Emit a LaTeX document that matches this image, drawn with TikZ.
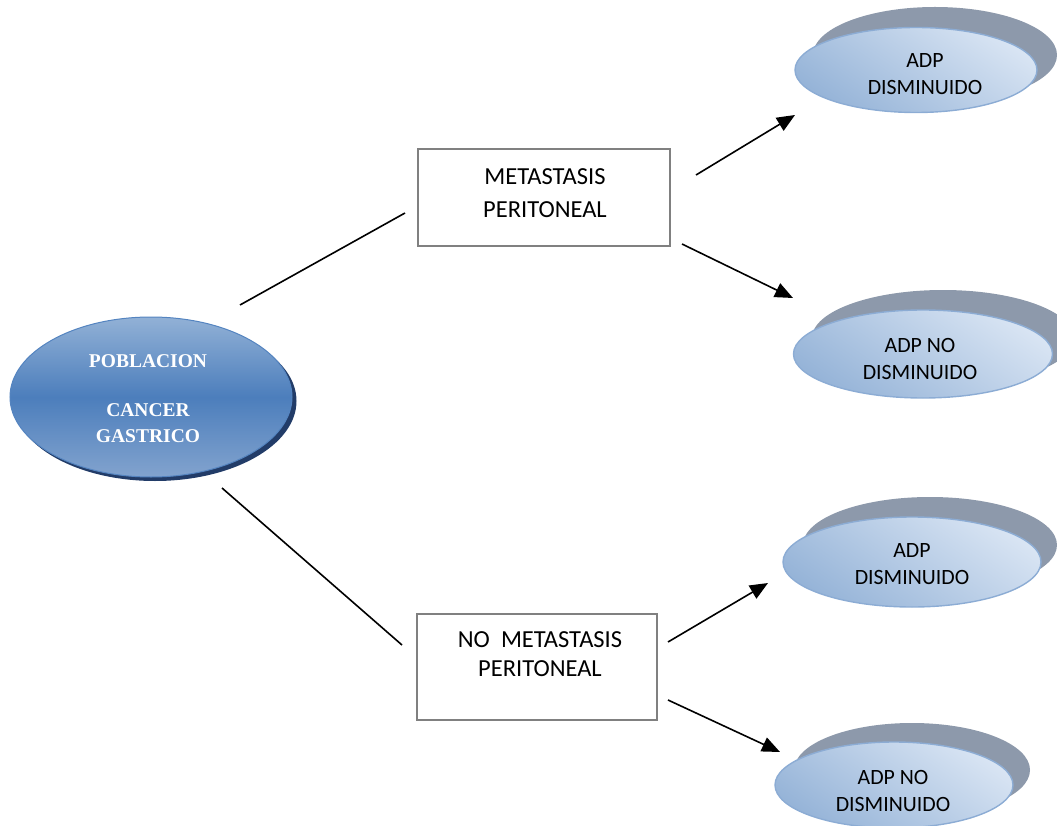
\documentclass[tikz,border=0pt]{standalone}
\usepackage{fontspec}
\setmainfont{Carlito}
\newfontfamily\cambria{Liberation Serif}
\usetikzlibrary{shapes.geometric,arrows.meta}
\definecolor{boxgray}{RGB}{128,128,128}
\definecolor{backgray}{RGB}{141,153,171}
\definecolor{frontlight}{RGB}{216,228,243}
\definecolor{frontdark}{RGB}{150,180,216}
\definecolor{frontedge}{RGB}{140,172,212}
\definecolor{bigtop}{RGB}{146,177,214}
\definecolor{bigmid}{RGB}{76,126,188}
\definecolor{bigbot}{RGB}{130,163,206}
\definecolor{bigedge}{RGB}{84,132,192}
\definecolor{bigshadow}{RGB}{34,60,104}
\begin{document}
\begin{tikzpicture}[x=1pt,y=-1pt,
  boxn/.style={draw=boxgray, line width=1.8pt, inner sep=0pt},
  boxtext/.style={align=center, font=\fontsize{24.5}{33}\selectfont},
  etext/.style={align=center, font=\fontsize{21.8}{27}\selectfont},
  backell/.style={ellipse, fill=backgray, inner sep=0pt},
  frontell/.style={ellipse, draw=frontedge, line width=1.4pt, inner sep=0pt,
     top color=frontlight, bottom color=frontdark, shading angle=-35},
  conn/.style={line width=1.6pt, black},
  arr/.style={conn, -{Triangle[length=18pt,width=15pt]}}
]
\useasboundingbox (0,0) rectangle (1057,826);

% big ellipse
\node[ellipse, fill=bigshadow, minimum width=283pt, minimum height=160pt, inner sep=0pt] (bigsh) at (155,401) {};
\node[ellipse, draw=bigedge, line width=1pt, minimum width=282pt, minimum height=160pt, inner sep=0pt,
  top color=bigtop, bottom color=bigbot, middle color=bigmid] (big) at (151,397) {};
\node[align=center, text=white, font=\cambria\bfseries\fontsize{19.5}{26}\selectfont] (bigt) at (148,399)
  {POBLACION\\[23pt]CANCER\\GASTRICO};

% boxes
\node[boxn, minimum width=252pt, minimum height=97pt] (box1) at (544,197.5) {};
\node[boxtext] (box1t) at (545,193) {METASTASIS\\PERITONEAL};
\node[boxn, minimum width=240pt, minimum height=106pt] (box2) at (537,667) {};
\node[boxtext, font=\fontsize{24.5}{29}\selectfont] (box2t) at (540,654) {NO\ \ METASTASIS\\PERITONEAL};

% outcome ellipses
\node[backell, minimum width=244pt, minimum height=96pt] (b1) at (935,55) {};
\node[frontell, minimum width=242pt, minimum height=85pt] (e1) at (916,70) {};
\node[etext] (t1) at (925,74) {ADP\\DISMINUIDO};

\node[backell, minimum width=262pt, minimum height=96pt] (b2) at (943,338) {};
\node[frontell, minimum width=259pt, minimum height=88pt] (e2) at (923,354) {};
\node[etext] (t2) at (920,359) {ADP NO\\DISMINUIDO};

\node[backell, minimum width=254pt, minimum height=96pt] (b3) at (930,545) {};
\node[frontell, minimum width=258pt, minimum height=90pt] (e3) at (912,562) {};
\node[etext] (t3) at (912,564) {ADP\\DISMINUIDO};

\node[backell, minimum width=236pt, minimum height=94pt] (b4) at (912,770) {};
\node[frontell, minimum width=238pt, minimum height=86pt] (e4) at (894,785) {};
\node[etext] (t4) at (893,791) {ADP NO\\DISMINUIDO};

% connector end points
\coordinate (l1s) at (240,305);
\coordinate (l1e) at (405,213);
\coordinate (l2s) at (222,488);
\coordinate (l2e) at (402,645);
\coordinate (a1s) at (696,175);
\coordinate (a1e) at (795,115);
\coordinate (a2s) at (682,244);
\coordinate (a2e) at (793,298);
\coordinate (a3s) at (668,642);
\coordinate (a3e) at (768,583);
\coordinate (a4s) at (668,700);
\coordinate (a4e) at (780,752);

\draw[conn] (l1s) -- (l1e);
\draw[conn] (l2s) -- (l2e);
\draw[arr] (a1s) -- (a1e);
\draw[arr] (a2s) -- (a2e);
\draw[arr] (a3s) -- (a3e);
\draw[arr] (a4s) -- (a4e);
\end{tikzpicture}
\end{document}
